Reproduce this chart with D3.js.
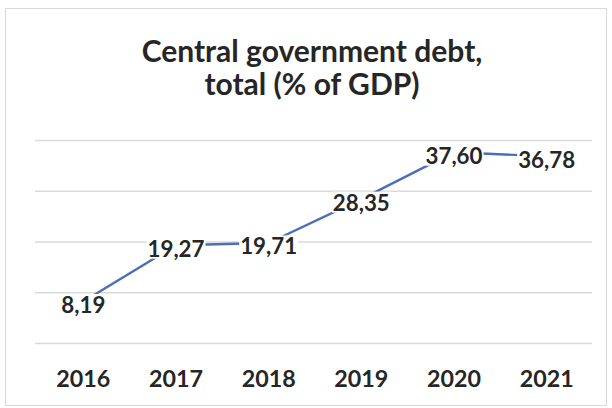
<!DOCTYPE html>
<html>
<head>
<meta charset="utf-8">
<script src="https://cdn.jsdelivr.net/npm/d3@7"></script>
<style>
html,body{margin:0;padding:0;background:#fff;}
svg{display:block;}
text{font-family:Lato,"Open Sans",sans-serif;font-weight:700;}
</style>
</head>
<body>
<svg id="chart" width="612" height="408"></svg>
<script>
const years = ["2016","2017","2018","2019","2020","2021"];
const debtValues = [8.19, 19.27, 19.71, 28.35, 37.60, 36.78];
const gridTicks = [0, 10, 20, 30, 40];
const titleLines = ["Central government debt,", "total (% of GDP)"];

const W = 612, H = 408;
const svg = d3.select("#chart");
const fmt = v => v.toFixed(2).replace(".", ",");

// chart frame
svg.append("rect").attr("x", 5.5).attr("y", 8.5).attr("width", 601).attr("height", 397)
  .attr("fill", "#fff").attr("stroke", "#d9d9d9").attr("stroke-width", 1);

const x = d3.scaleBand().domain(years).range([37, 593]);
const y = d3.scaleLinear().domain([0, 40]).range([343, 140]);
const cx = d => x(d) + x.bandwidth() / 2;

// fit a font size so that a given string has the target width
function fitSize(str, target, base) {
  const t = svg.append("text").attr("font-size", base).text(str);
  const w = t.node().getComputedTextLength();
  t.remove();
  return base * target / w;
}

// gridlines
const grid = svg.append("g").attr("transform", `translate(${35},0)`)
  .call(d3.axisLeft(y).tickValues(gridTicks).tickSize(-(592 - 35)).tickFormat(""));
grid.select(".domain").remove();
grid.selectAll(".tick line").attr("stroke", "#d9d9d9").attr("stroke-width", 1.3);

// x axis labels
const xSize = fitSize("2021", 54, 20);
const xa = svg.append("g").attr("transform", `translate(0,${370})`)
  .call(d3.axisBottom(x).tickSize(0).tickPadding(0));
xa.select(".domain").remove();
xa.selectAll(".tick text").attr("font-size", xSize).attr("fill", "#262626")
  .attr("font-family", "Lato, 'Open Sans', sans-serif").attr("font-weight", 700)
  .attr("dy", "0").attr("y", 17);

// line
const line = d3.line().x((d, i) => cx(years[i])).y(d => y(d));
svg.append("path").datum(debtValues).attr("d", line)
  .attr("fill", "none").attr("stroke", "#4a6fb8").attr("stroke-width", 2.4)
  .attr("stroke-linejoin", "round");

// data labels with white backing
const lSize = fitSize("36,78", 57, 18);
const lg = svg.append("g");
debtValues.forEach((v, i) => {
  const g = lg.append("g");
  const t = g.append("text").attr("x", cx(years[i])).attr("y", y(v) + 3)
    .attr("text-anchor", "middle").attr("dominant-baseline", "central")
    .attr("font-size", lSize).attr("fill", "#262626").text(fmt(v));
  const bb = t.node().getBBox();
  g.insert("rect", "text").attr("x", bb.x - 1).attr("y", bb.y + 3)
    .attr("width", bb.width + 2).attr("height", bb.height - 6).attr("fill", "#fff");
});

// title
const tSize = fitSize(titleLines[0], 341, 24);
svg.append("text").attr("x", 312).attr("y", 62).attr("text-anchor", "middle")
  .attr("font-size", tSize).attr("fill", "#262626").text(titleLines[0]);
svg.append("text").attr("x", 312).attr("y", 95).attr("text-anchor", "middle")
  .attr("font-size", tSize).attr("fill", "#262626").text(titleLines[1]);
</script>
</body>
</html>
